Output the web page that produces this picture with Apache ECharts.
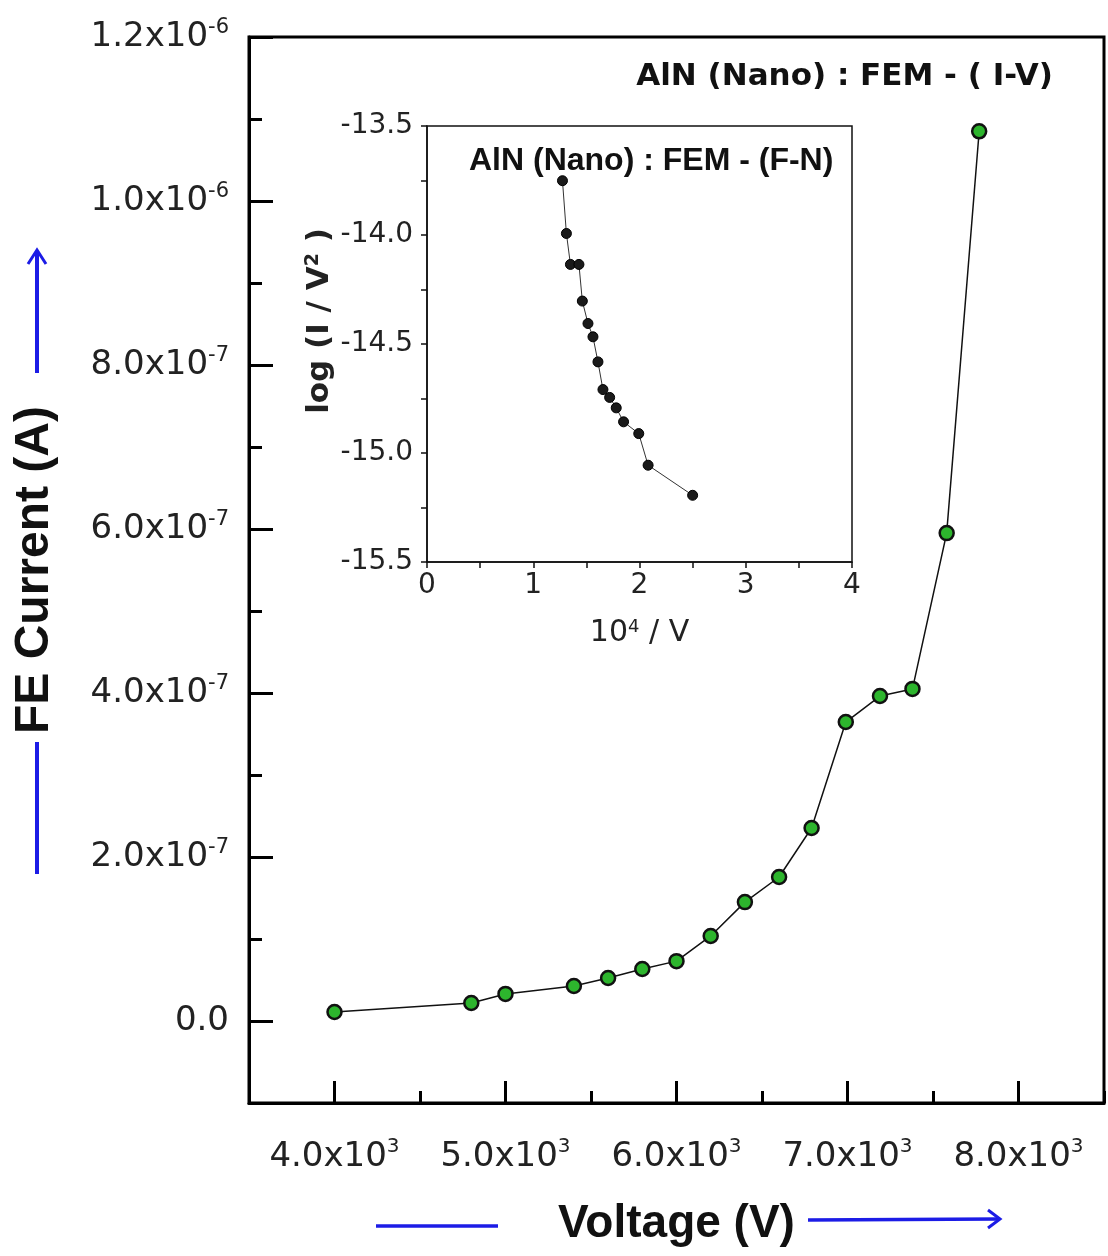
<!DOCTYPE html>
<html>
<head>
<meta charset="utf-8">
<script src="https://cdn.jsdelivr.net/npm/echarts@6/dist/echarts.min.js"></script>
<style>
html,body{margin:0;padding:0;background:#fff;}
#chart{width:1108px;height:1256px;}
</style>
</head>
<body>
<div id="chart"></div>
<script>
// I-V data (main plot)
var voltage = [4000,4800,5000,5400,5600,5800,6000,6200,6400,6600,6790,6990,7190,7380,7580,7770];
var current = [1.1e-8,2.2e-8,3.3e-8,4.27e-8,5.24e-8,6.34e-8,7.3e-8,1.037e-7,1.45e-7,1.756e-7,2.354e-7,3.646e-7,3.963e-7,4.05e-7,5.95e-7,1.085e-6];
// F-N data (inset)
var fnX = [1.275,1.312,1.35,1.43,1.462,1.515,1.562,1.609,1.656,1.719,1.781,1.85,1.993,2.081,2.5];
var fnY = [-13.751,-13.993,-14.135,-14.135,-14.303,-14.406,-14.467,-14.582,-14.709,-14.745,-14.793,-14.857,-14.911,-15.056,-15.194];

// tick labels
var xTickVals = [4000,5000,6000,7000,8000];
var xTickLabels = ['4.0x10{s|3}','5.0x10{s|3}','6.0x10{s|3}','7.0x10{s|3}','8.0x10{s|3}'];
var yTickVals = [0,2e-7,4e-7,6e-7,8e-7,1e-6,1.2e-6];
var yTickLabels = ['0.0','2.0x10{s|-7}','4.0x10{s|-7}','6.0x10{s|-7}','8.0x10{s|-7}','1.0x10{s|-6}','1.2x10{s|-6}'];
var fnXTickVals = [0,1,2,3,4];
var fnXTickLabels = ['0','1','2','3','4'];
var fnYTickVals = [-13.5,-14.0,-14.5,-15.0,-15.5];
var fnYTickLabels = ['-13.5','-14.0','-14.5','-15.0','-15.5'];

function pick(vals, labels, v, eps){
	for(var i=0;i<vals.length;i++){
		if(Math.abs(vals[i]-v)<eps) return labels[i];
	}
	return '';
}

var charts = echarts.init(document.getElementById('chart'));

var tickFont = 'DejaVu Sans';
var option = {
	backgroundColor:'#fff',
	animation:false,
	title:[{
		text:'AlN (Nano) : FEM - ( I-V)',
		right:50,
		top:56,
		textStyle:{fontFamily:'DejaVu Sans',fontWeight:'bold',fontSize:31,color:'#111'}
	},{
		text:'AlN (Nano) : FEM - (F-N)',
		left:464,
		top:140,
		textStyle:{fontFamily:'Liberation Sans',fontWeight:'bold',fontSize:32,color:'#111'}
	}],
	grid:[{
		left:249,right:4,top:37,bottom:153,
		show:true,borderColor:'#000',borderWidth:3,backgroundColor:'#fff'
	},{
		left:427,right:256,top:126,bottom:694,
		show:true,borderColor:'#111',borderWidth:1.5,backgroundColor:'#fff'
	}],
	xAxis:[{
		gridIndex:0,type:'value',min:3500,max:8500,interval:500,
		name:'Voltage (V)',nameLocation:'middle',nameGap:98,
		nameTextStyle:{fontFamily:'Liberation Sans',fontWeight:'bold',fontSize:46,color:'#111'},
		axisLine:{onZero:false,lineStyle:{color:'#000',width:3}},
		axisTick:{inside:true,length:12,lineStyle:{color:'#000',width:3}},
		axisLabel:{
			margin:34,
			formatter:function(v){ return pick(xTickVals,xTickLabels,v,1); },
			rich:{
				s:{fontFamily:tickFont,fontSize:20,lineHeight:20,verticalAlign:'top',color:'#222'}
			},
			fontFamily:tickFont,fontSize:34,lineHeight:40,color:'#222'
		},
		splitLine:{show:false}
	},{
		gridIndex:0,type:'value',min:3500,max:8500,interval:500,position:'bottom',
		axisLine:{show:false,onZero:false},
		axisTick:{inside:true,length:22,customValues:xTickVals,lineStyle:{color:'#000',width:3}},
		axisLabel:{show:false},
		splitLine:{show:false}
	},{
		gridIndex:1,type:'value',min:0,max:4,interval:0.5,
		name:'10{s|4} / V',nameLocation:'middle',nameGap:56,
		nameTextStyle:{fontFamily:tickFont,fontSize:30,color:'#222',
			rich:{s:{fontFamily:tickFont,fontSize:18,lineHeight:18,verticalAlign:'top',color:'#222'}}},
		axisLine:{onZero:false,lineStyle:{color:'#111',width:1.5}},
		axisTick:{inside:false,length:6,lineStyle:{color:'#111',width:1.5}},
		axisLabel:{
			margin:10,
			formatter:function(v){ return pick(fnXTickVals,fnXTickLabels,v,1e-6); },
			fontFamily:tickFont,fontSize:28,color:'#222'
		},
		splitLine:{show:false}
	}],
	yAxis:[{
		gridIndex:0,type:'value',min:-1e-7,max:1.2e-6,interval:1e-7,
		name:'FE Current (A)',nameLocation:'middle',nameGap:190,
		nameTextStyle:{fontFamily:'Liberation Sans',fontWeight:'bold',fontSize:48,color:'#111'},
		axisLine:{onZero:false,lineStyle:{color:'#000',width:3}},
		axisTick:{inside:true,length:13,lineStyle:{color:'#000',width:3}},
		axisLabel:{
			margin:20,
			formatter:function(v){ return pick(yTickVals,yTickLabels,v,1e-9); },
			rich:{
				s:{fontFamily:tickFont,fontSize:21,lineHeight:21,verticalAlign:'top',color:'#222'}
			},
			fontFamily:tickFont,fontSize:34,lineHeight:40,color:'#222'
		},
		splitLine:{show:false}
	},{
		gridIndex:0,type:'value',min:-1e-7,max:1.2e-6,interval:1e-7,position:'left',
		axisLine:{show:false,onZero:false},
		axisTick:{inside:true,length:24,customValues:yTickVals,lineStyle:{color:'#000',width:3}},
		axisLabel:{show:false},
		splitLine:{show:false}
	},{
		gridIndex:1,type:'value',min:-15.5,max:-13.5,interval:0.25,
		name:'log (I / V{s|2} )',nameLocation:'middle',nameGap:92,
		nameTextStyle:{fontFamily:tickFont,fontWeight:'bold',fontSize:31,color:'#222',padding:[0,0,0,46],
			rich:{s:{fontFamily:tickFont,fontWeight:'bold',fontSize:19,lineHeight:19,verticalAlign:'top',color:'#222'}}},
		axisLine:{onZero:false,lineStyle:{color:'#111',width:1.5}},
		axisTick:{inside:false,length:6,lineStyle:{color:'#111',width:1.5}},
		axisLabel:{
			margin:14,
			formatter:function(v){ return pick(fnYTickVals,fnYTickLabels,v,1e-6); },
			fontFamily:tickFont,fontSize:28,color:'#222'
		},
		splitLine:{show:false}
	}],
	series:[{
		name:'I-V',type:'line',xAxisIndex:0,yAxisIndex:0,
		data:voltage.map(function(v,i){ return [v,current[i]]; }),
		symbol:'circle',symbolSize:14,
		lineStyle:{color:'#111',width:1.5},
		itemStyle:{color:'#2db52d',borderColor:'#111',borderWidth:2.5},
		z:3
	},{
		name:'F-N',type:'line',xAxisIndex:2,yAxisIndex:2,
		data:fnX.map(function(v,i){ return [v,fnY[i]]; }),
		symbol:'circle',symbolSize:10,
		lineStyle:{color:'#333',width:1},
		itemStyle:{color:'#1a1a1a',borderColor:'#000',borderWidth:1},
		z:5
	}],
	// blue arrows beside the axis names
	graphic:[
		{type:'line',shape:{x1:37,y1:373,x2:37,y2:252},style:{stroke:'#1c1ce6',lineWidth:4}},
		{type:'polyline',shape:{points:[[28,264],[37,250],[46,264]]},style:{stroke:'#1c1ce6',lineWidth:3,fill:null}},
		{type:'line',shape:{x1:37,y1:742,x2:37,y2:874},style:{stroke:'#1c1ce6',lineWidth:4}},
		{type:'line',shape:{x1:376,y1:1226,x2:498,y2:1226},style:{stroke:'#1c1ce6',lineWidth:3.5}},
		{type:'line',shape:{x1:808,y1:1220,x2:998,y2:1219},style:{stroke:'#1c1ce6',lineWidth:3.5}},
		{type:'polyline',shape:{points:[[988,1210],[1000,1219],[988,1228]]},style:{stroke:'#1c1ce6',lineWidth:3,fill:null}}
	]
};
charts.setOption(option);
</script>
</body>
</html>
